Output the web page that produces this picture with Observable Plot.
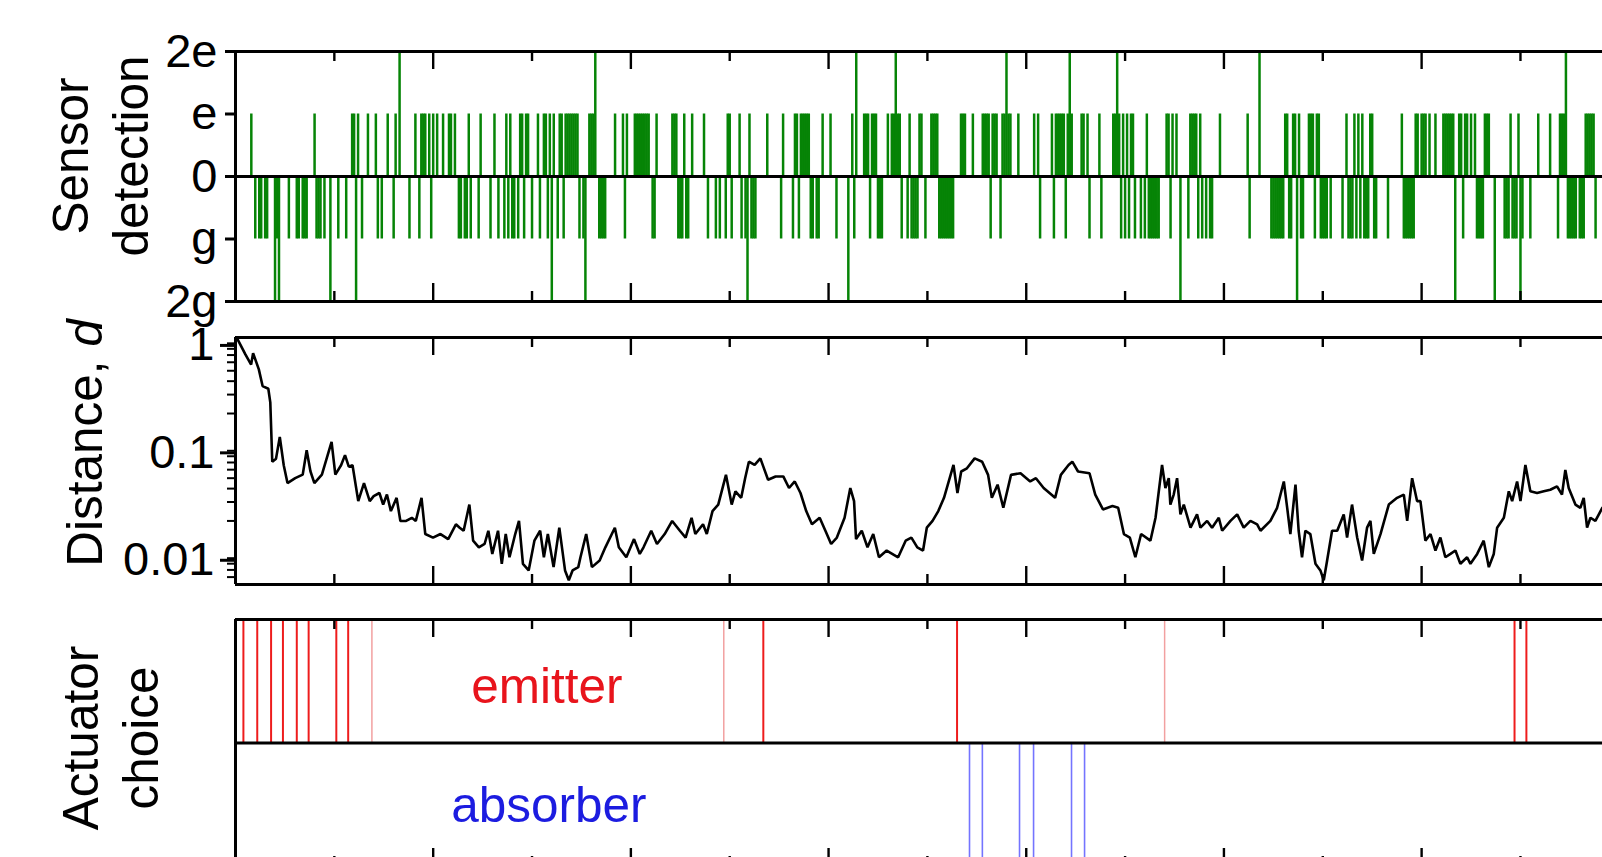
<!DOCTYPE html>
<html><head><meta charset="utf-8">
<script src="https://cdn.jsdelivr.net/npm/d3@7"></script>
<script src="https://cdn.jsdelivr.net/npm/@observablehq/plot@0.6"></script>
<style>
html,body{margin:0;padding:0;background:#fff;overflow:hidden;}
#fig{position:relative;width:1602px;height:857px;overflow:hidden;background:#fff;}
#fig svg{position:absolute;left:0;}
</style></head><body><div id="fig"></div>
<script>
// ---------------- data ----------------
// time steps (x) of the sensor detections, per outcome
const detE = [8,40,59,60,62,67,71,77,81,91,94,95,96,98,100,102,105,108,109,111,118,124,131,137,139,144,145,147,148,153,156,157,159,161,164,165,167,168,169,170,171,172,173,179,180,181,192,196,198,202,203,204,205,206,207,208,209,213,221,222,223,227,231,237,249,250,255,260,269,277,283,284,286,287,288,289,290,297,301,312,318,319,320,322,323,324,330,332,333,335,336,341,346,347,352,353,354,355,367,368,369,373,378,379,380,381,383,384,385,388,389,391,392,396,404,406,413,415,416,417,418,419,421,423,428,429,431,437,444,445,447,449,451,453,454,461,471,472,474,476,483,484,485,486,488,498,512,531,532,535,536,538,543,544,545,547,548,562,566,568,570,574,575,590,597,598,600,601,602,604,607,611,612,613,614,615,616,619,620,622,623,625,627,632,633,634,645,649,659,665,670,671,672,683,684,685,686,687];
const detG = [10,12,13,15,16,21,27,31,32,34,35,36,41,42,43,45,52,56,64,72,74,80,88,93,99,113,114,116,117,119,123,129,133,136,138,140,141,143,146,150,154,158,163,166,174,176,184,185,186,187,197,211,212,224,225,226,228,229,239,243,245,248,251,256,258,261,262,263,276,282,285,291,292,294,295,304,313,321,325,326,327,337,340,342,343,344,345,349,356,357,358,359,360,361,362,363,382,387,407,414,420,432,438,448,450,452,455,458,460,462,463,464,465,466,467,473,482,487,489,491,493,494,513,524,525,526,527,528,529,530,533,534,539,540,546,549,550,551,552,554,560,563,564,565,567,569,571,572,573,576,577,583,591,592,593,594,595,596,621,628,629,630,631,642,643,644,646,647,648,651,655,669,674,675,676,677,678,680,681,682,688];
const det2E = [83,182,314,334,390,422,446,518,673];
const det2G = [20,22,48,61,160,177,259,310,478,537,617,637,650];
const sensorTicks = [2, 1, 0, -1, -2];
const sensorTickLabels = ["2e", "e", "0", "g", "2g"];

// distance d: [time step, d]
const distanceTrace = [
[0.5,1.0],[1.2,0.97],[5,0.71],[7.9,0.57],[8.9,0.73],[11.8,0.515],[13.7,0.36],[16.6,0.34],[17.6,0.254],[18.6,0.071],[20.5,0.076],[22.4,0.121],[24.4,0.066],[26.3,0.045],[30.2,0.05],[34,0.054],[36,0.091],[37.9,0.058],[39.9,0.045],[43.7,0.054],[48.6,0.109],[50.5,0.054],[53.4,0.066],[55.4,0.082],[57.3,0.064],[59.2,0.066],[62.1,0.0306],[65,0.045],[67.9,0.0306],[69.9,0.034],[72.8,0.0364],[74.7,0.0284],[76.6,0.0352],[78.6,0.0247],[81.5,0.0328],[83.4,0.02],[86.3,0.02],[89.2,0.0214],[91.2,0.02],[94.1,0.0328],[96,0.0151],[99.9,0.014],[103.7,0.0151],[107.6,0.01355],[111.5,0.0186],[113.4,0.0173],[115.4,0.0162],[118.3,0.0284],[120.2,0.0131],[123.1,0.01136],[126,0.0122],[127.9,0.0162],[129.9,0.00986],[132.8,0.0162],[134.7,0.00798],[136.7,0.0151],[138.6,0.00918],[141.5,0.0151],[143.4,0.02],[145.4,0.00798],[148.3,0.00692],[151.2,0.0131],[154.1,0.0162],[156,0.00918],[158,0.0151],[160.9,0.00743],[163.8,0.0173],[166.7,0.00692],[168.6,0.0056],[170.5,0.00692],[173.4,0.00743],
[174.5,0.00918],[177.4,0.0151],[180.3,0.00743],[184.2,0.00856],[187.1,0.01136],[191.9,0.0173],[193.9,0.01136],[197.7,0.00918],[201.6,0.01355],[204.5,0.00986],[206.4,0.01136],[210.3,0.0162],[213.2,0.0122],[217.1,0.0151],[220.9,0.02],[224.8,0.0162],[227.7,0.014],[230.7,0.0214],[232.6,0.0151],[236.5,0.0186],[238.4,0.0151],[241.3,0.0247],[244.2,0.0284],[248.1,0.0537],[251,0.0284],[252.9,0.0377],[255.8,0.0328],[257.8,0.05],[259.7,0.0712],[262.6,0.0664],[265.5,0.0764],[269.4,0.0483],[273.2,0.0519],[277.1,0.0519],[280,0.0405],[282.9,0.0466],[285.8,0.0364],[288.7,0.0247],[291.6,0.0186],[295.5,0.0214],[298.4,0.0162],[301.3,0.0122],[304.2,0.014],[308.1,0.0214],[311,0.0405],[312.9,0.0306],[313.9,0.01355],[316.8,0.0162],[319.7,0.01136],[322.6,0.0151],[325.5,0.00918],[329.4,0.0106],[335.2,0.00918],[339,0.0131],[341.9,0.014],[344.9,0.01136],[347.8,0.0106],[349.7,0.0173],[352.6,0.02],[355.5,0.0247],[358.4,0.0328],[363.2,0.0664],[365.2,0.0364],[367.1,0.0577],[370,0.0618],[373.9,0.0764],[377.7,0.0712],[380.7,0.0537],[382.6,0.0328],[385.5,0.0435],[388.4,0.0265],[392.3,0.0537],[397.1,0.0556],[402,0.0466],[404.9,0.05],[408.8,0.0405],[414.6,0.0328],[417.5,0.0537],[421.4,0.0664],[423.3,0.0712],[426.2,0.0577],[432,0.0556],[434.9,0.0352],[438.8,0.0256],[443.6,0.0275],[446.5,0.0265],[449.4,0.0151],[452.4,0.014],[455.2,0.00918],[458.1,0.0151],
[462.8,0.0131],[465.4,0.0214],[468.7,0.0664],[470.4,0.0405],[472.1,0.05],[472.9,0.0284],[474.6,0.0352],[476.3,0.05],[478,0.023],[479.7,0.0284],[483.1,0.0173],[486.4,0.023],[488.1,0.0173],[491.5,0.02],[494,0.0173],[497.4,0.0214],[499.1,0.0162],[503.3,0.02],[506.7,0.023],[510,0.0173],[513.4,0.02],[516.8,0.0186],[518.5,0.0162],[523.5,0.02],[526.9,0.0265],[530.3,0.0466],[532,0.0265],[533.6,0.0151],[536.2,0.0435],[537.8,0.0162],[539.5,0.00918],[541.2,0.0162],[543.7,0.0151],[546.3,0.00798],[548.8,0.00692],[550.5,0.0056],[552.2,0.00856],[554.7,0.0162],[557.3,0.0162],[560.6,0.023],[562.3,0.014],[564.8,0.0284],[567.4,0.014],[569.9,0.00856],[572.4,0.0173],[574.1,0.02],[575.8,0.00986],[579.2,0.0151],[583.4,0.0284],[587.6,0.0328],[591,0.0352],[592.7,0.02],[595.2,0.05],[597.7,0.0306],[599.4,0.0306],[601.9,0.0131],[604.5,0.0151],[607,0.0106],[609.5,0.014],[612,0.00918],[614.6,0.00986],[617.1,0.0106],[619.6,0.00798],[623,0.00918],[624.7,0.00798],[628.1,0.00986],[631.4,0.0131],[634,0.00743],[636.5,0.00986],[638.2,0.0173],[641.6,0.0214],[644.1,0.0377],[645.8,0.0306],[648.3,0.0466],[650,0.0306],[652.5,0.0664],[655,0.0377],[658.4,0.0364],[661.8,0.0377],[665.1,0.039],[668.5,0.042],[671,0.0352],[672.7,0.0597],[674.4,0.0405],[677.8,0.0284],[680.3,0.0265],[682,0.0328],[683.7,0.0173],[685.4,0.0214],[687.9,0.02],[691.4,0.0265]
];
const distTicks = [1, 0.1, 0.01];
const distTickLabels = ["1", "0.1", "0.01"];
const distMinorTicks = [0.006,0.007,0.008,0.009,0.02,0.03,0.04,0.05,0.06,0.07,0.08,0.09,0.2,0.3,0.4,0.5,0.6,0.7,0.8,0.9];

// actuator choice: time steps
const emitterSteps = [4,11,18,24,31,37,51,57,267,365,647,653];
const emitterWeakSteps = [69,247,470];
const absorberSteps = [371.3,377.8,396.6,403.7,422.9,429.5];
const actuatorRows = ["emitter", "absorber"];

const xMajorTicks = [0,100,200,300,400,500,600];
const xMinorTicks = [50,150,250,350,450,550,650];

// ---------------- layout ----------------
const FONT = "'Liberation Sans', Arial, Helvetica, sans-serif";
const W = 1602, ML = 235;
const xDomain = [0, 691.5];
const FW = 3; // frame width
const LABEL_SIZE = 49.5;
const fig = document.getElementById("fig");

function inwardTicks(inner) {
  const o = {stroke: "black", strokeWidth: 2.4};
  return [
    Plot.tickX(xMajorTicks, {x: d => d, ...o, insetBottom: inner - 18}),
    Plot.tickX(xMajorTicks, {x: d => d, ...o, insetTop: inner - 18}),
    Plot.tickX(xMinorTicks, {x: d => d, ...o, insetBottom: inner - 10}),
    Plot.tickX(xMinorTicks, {x: d => d, ...o, insetTop: inner - 10})
  ];
}
const baseStyle = {fontFamily: FONT, fontSize: "47px", background: "transparent", overflow: "visible", color: "black"};

function place(svg, top) { svg.style.top = top + "px"; svg.style.maxWidth = "none"; fig.appendChild(svg); return svg; }

function rotLabel(svg, x, y, parts) {
  const t = d3.select(svg).append("text")
    .attr("transform", `translate(${x},${y}) rotate(-90)`)
    .attr("text-anchor", "middle").attr("font-family", FONT)
    .attr("font-size", LABEL_SIZE).attr("fill", "black");
  for (const [s, it] of parts) t.append("tspan").text(s).attr("font-style", it ? "italic" : null);
}

// ---- panel 1: sensor detection ----
const sensorSeries = d3.range(0, 692).map(step => ({step, value: 0}));
for (const s of detE) sensorSeries[s].value = 1;
for (const s of detG) sensorSeries[s].value = -1;
for (const s of det2E) sensorSeries[s].value = 2;
for (const s of det2G) sensorSeries[s].value = -2;
const sensorHits = sensorSeries.filter(d => d.value !== 0);

const p1 = Plot.plot({
  width: W, height: 320, marginTop: 51, marginBottom: 19, marginLeft: ML, marginRight: 0,
  style: baseStyle,
  x: {domain: xDomain, axis: null},
  y: {domain: [-2, 2], axis: null},
  marks: [
    Plot.ruleX(sensorHits, {x: "step", y1: 0, y2: "value", stroke: "#068406", strokeWidth: 2.5}),
    Plot.ruleY([0], {stroke: "black", strokeWidth: FW}),
    ...inwardTicks(250),
    Plot.ruleY([-2, 2], {stroke: "black", strokeWidth: FW}),
    Plot.ruleX([0], {stroke: "black", strokeWidth: FW}),
    Plot.axisY(sensorTicks, {anchor: "left", tickSize: 10, tickPadding: 8, strokeWidth: FW, fontSize: 47, label: null,
      tickFormat: d => sensorTickLabels[sensorTicks.indexOf(d)]})
  ]
});
place(p1, 0);
rotLabel(p1, 88, 156, [["Sensor", false]]);
rotLabel(p1, 148, 156, [["detection", false]]);

// ---- panel 2: distance ----
const distDomain = [0.00512, 1.02];
const p2 = Plot.plot({
  width: W, height: 280, marginTop: 17, marginBottom: 16, marginLeft: ML, marginRight: 0,
  style: baseStyle,
  x: {domain: xDomain, axis: null},
  y: {type: "log", domain: distDomain, axis: null},
  marks: [
    Plot.line(distanceTrace, {x: d => d[0], y: d => d[1], stroke: "black", strokeWidth: 2.6, strokeLinejoin: "miter"}),
    ...inwardTicks(247),
    Plot.ruleY(distDomain, {stroke: "black", strokeWidth: FW}),
    Plot.ruleX([0], {stroke: "black", strokeWidth: FW}),
    Plot.axisY(distMinorTicks, {anchor: "left", tickSize: 8, strokeWidth: 2, text: null, label: null}),
    Plot.axisY(distTicks, {anchor: "left", tickSize: 15, tickPadding: 6, strokeWidth: FW, fontSize: 47, label: null, dy: 7,
      tickFormat: d => distTickLabels[distTicks.indexOf(d)]})
  ]
});
place(p2, 320);
rotLabel(p2, 102, 123, [["Distance, ", false], ["d", true]]);

// ---- panel 3: actuator choice ----
const p3 = Plot.plot({
  width: W, height: 280, marginTop: 19, marginBottom: 14, marginLeft: ML, marginRight: 0,
  style: baseStyle,
  x: {domain: xDomain, axis: null},
  y: {domain: [0, 2], axis: null},
  marks: [
    Plot.ruleX(emitterWeakSteps, {x: d => d, y1: 1, y2: 2, stroke: "#f2a0a0", strokeWidth: 1.5}),
    Plot.ruleX(emitterSteps, {x: d => d, y1: 1, y2: 2, stroke: "#ee1c1c", strokeWidth: 2}),
    Plot.ruleX(absorberSteps, {x: d => d, y1: 0, y2: 1, stroke: "#7474ff", strokeWidth: 1.6}),
    Plot.text([actuatorRows[0]], {x: () => 157.5, y: () => 1.5, text: d => d, fill: "#e8141c", fontSize: LABEL_SIZE, dy: 6}),
    Plot.text([actuatorRows[1]], {x: () => 158.5, y: () => 0.5, text: d => d, fill: "#1c1ce0", fontSize: LABEL_SIZE, dy: 1}),
    ...inwardTicks(247),
    Plot.ruleY([0, 1, 2], {stroke: "black", strokeWidth: FW}),
    Plot.ruleX([0], {stroke: "black", strokeWidth: FW})
  ]
});
place(p3, 600);
rotLabel(p3, 98, 138, [["Actuator", false]]);
rotLabel(p3, 158, 138, [["choice", false]]);
</script></body></html>
